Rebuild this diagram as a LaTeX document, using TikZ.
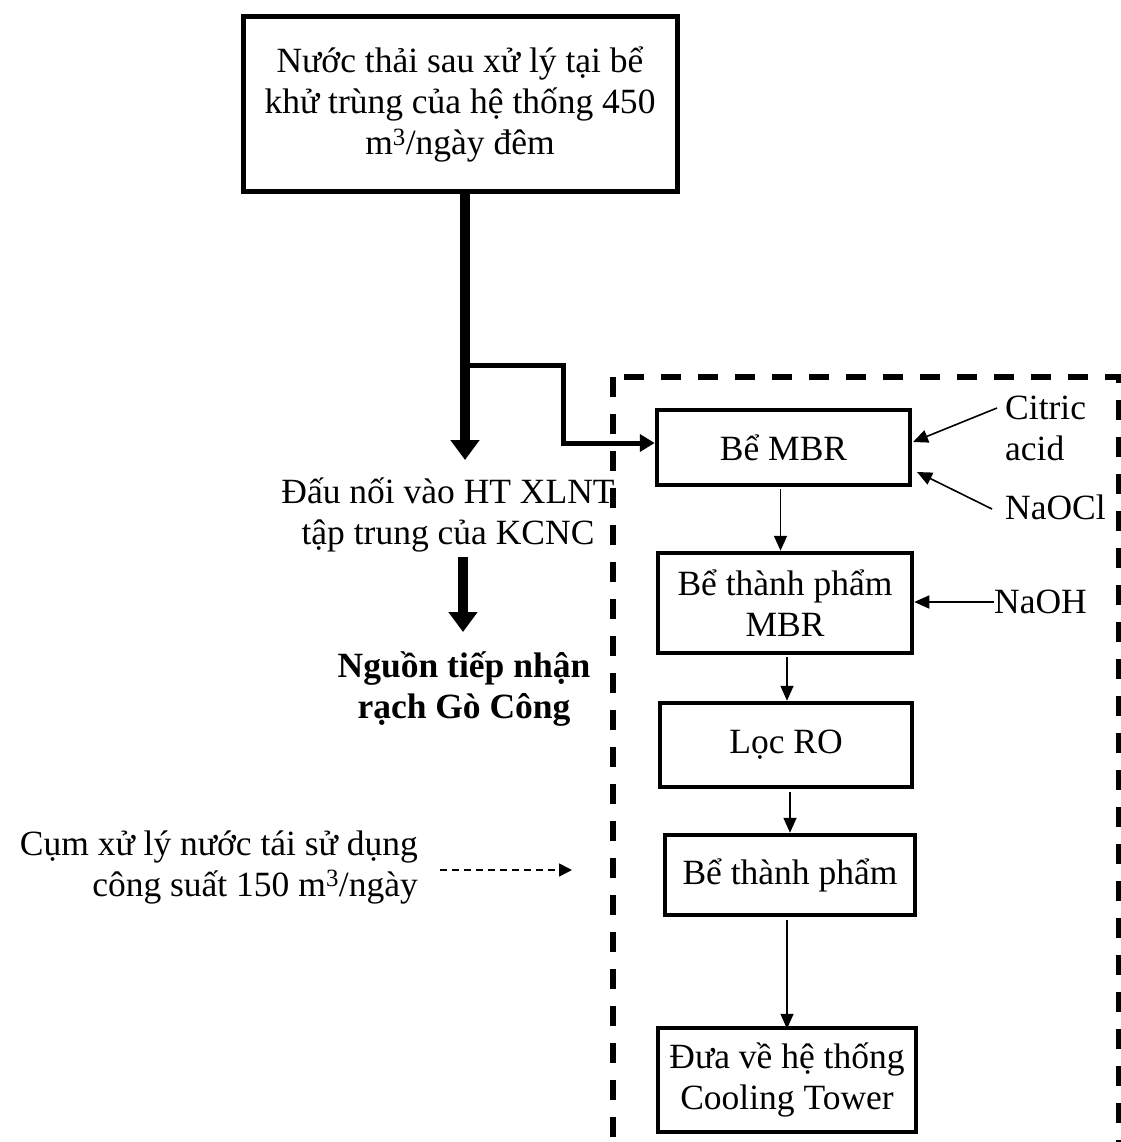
\documentclass[tikz,border=0pt]{standalone}
\usepackage{fontspec}
\setmainfont{Liberation Serif}
\usetikzlibrary{arrows.meta}
\begin{document}
\begin{tikzpicture}[x=1pt,y=-1pt,
  txt/.style={font=\fontsize{35.5}{41}\selectfont, inner sep=0pt},
  boxn/.style={draw, line width=4.5pt, txt, align=center},
  thin/.style={line width=1.6pt, -{Triangle[width=13pt,length=15pt]}},
  fat/.style={line width=10pt, -{Triangle[width=28pt,length=20pt]}},
  branch/.style={line width=5pt, -{Triangle[width=17pt,length=15pt]}}]
\useasboundingbox (0,0) rectangle (1120,1142);
% dashed frame
\draw[line width=6.5pt, dash pattern=on 20pt off 17pt] (613,377) rectangle (1119,1200);
% boxes
\node[boxn, line width=5pt, minimum width=434pt, minimum height=175pt] (top) at (460,104)
  {Nước thải sau xử lý tại bể\\khử trùng của hệ thống 450\\m\textsuperscript{3}/ngày đêm};
\node[boxn, minimum width=253pt, minimum height=75pt] (mbr) at (783.5,447.5) {Bể MBR};
\node[boxn, minimum width=254pt, minimum height=100pt] (btpm) at (785,603) {Bể thành phẩm\\MBR};
\node[boxn, minimum width=252pt, minimum height=84pt] (ro) at (786,745) {Lọc RO};
\node[boxn, minimum width=250pt, minimum height=80pt] (btp) at (790,875) {Bể thành phẩm};
\node[boxn, minimum width=258pt, minimum height=104pt] (dua) at (787,1080) {Đưa về hệ thống\\Cooling Tower};
% left texts
\node[txt, align=center] (dau) at (448,515) {Đấu nối vào HT XLNT\\tập trung của KCNC};
\node[txt, align=center, font=\fontsize{35.5}{41}\selectfont\bfseries] (nguon) at (464,689) {Nguồn tiếp nhận\\rạch Gò Công};
\node[txt, align=right, anchor=east] (cum) at (418,867) {Cụm xử lý nước tái sử dụng\\công suất 150 m\textsuperscript{3}/ngày};
% chemicals
\node[txt, align=left, anchor=west] (cit) at (1005,428) {Citric\\acid};
\node[txt, anchor=west] (naocl) at (1005,507) {NaOCl};
\node[txt, anchor=west] (naoh) at (994,602) {NaOH};
% coordinates
\coordinate (t2) at (465,460);
\coordinate (b0) at (465,365);
\coordinate (b1) at (563,443);
\coordinate (d1) at (463,557);
\coordinate (d2) at (463,632);
\coordinate (c1) at (440,870);
\coordinate (c2) at (572,870);
% thick flows
\draw[fat] (top.south -| t2) -- (t2);
\draw[branch] (b0) -| (b1) -- (b1 -| mbr.west);
\draw[fat] (d1) -- (d2);
% dashed arrow
\draw[line width=1.6pt, dash pattern=on 7pt off 5pt, -{Triangle[width=13pt,length=13pt]}] (c1) -- (c2);
% process arrows
\draw[thin] (mbr.south) ++(-3,2) coordinate (m1) -- (m1 |- btpm.north);
\draw[thin] (btpm.south) ++(2,2) coordinate (m2) -- (m2 |- ro.north);
\draw[thin] (ro.south) ++(4,3) coordinate (m3) -- (m3 |- btp.north);
\draw[thin] (btp.south) ++(-3,3) coordinate (m4) -- ([yshift=-3pt]m4 |- dua.north);
% chemical arrows
\draw[thin] (cit.west) ++(-8,-20) coordinate (k1) -- (913,442);
\draw[thin] (naocl.west) ++(-13,2) coordinate (k2) -- (917,472);
\draw[thin] (naoh.west) -- (naoh.west -| btpm.east);
\end{tikzpicture}
\end{document}
